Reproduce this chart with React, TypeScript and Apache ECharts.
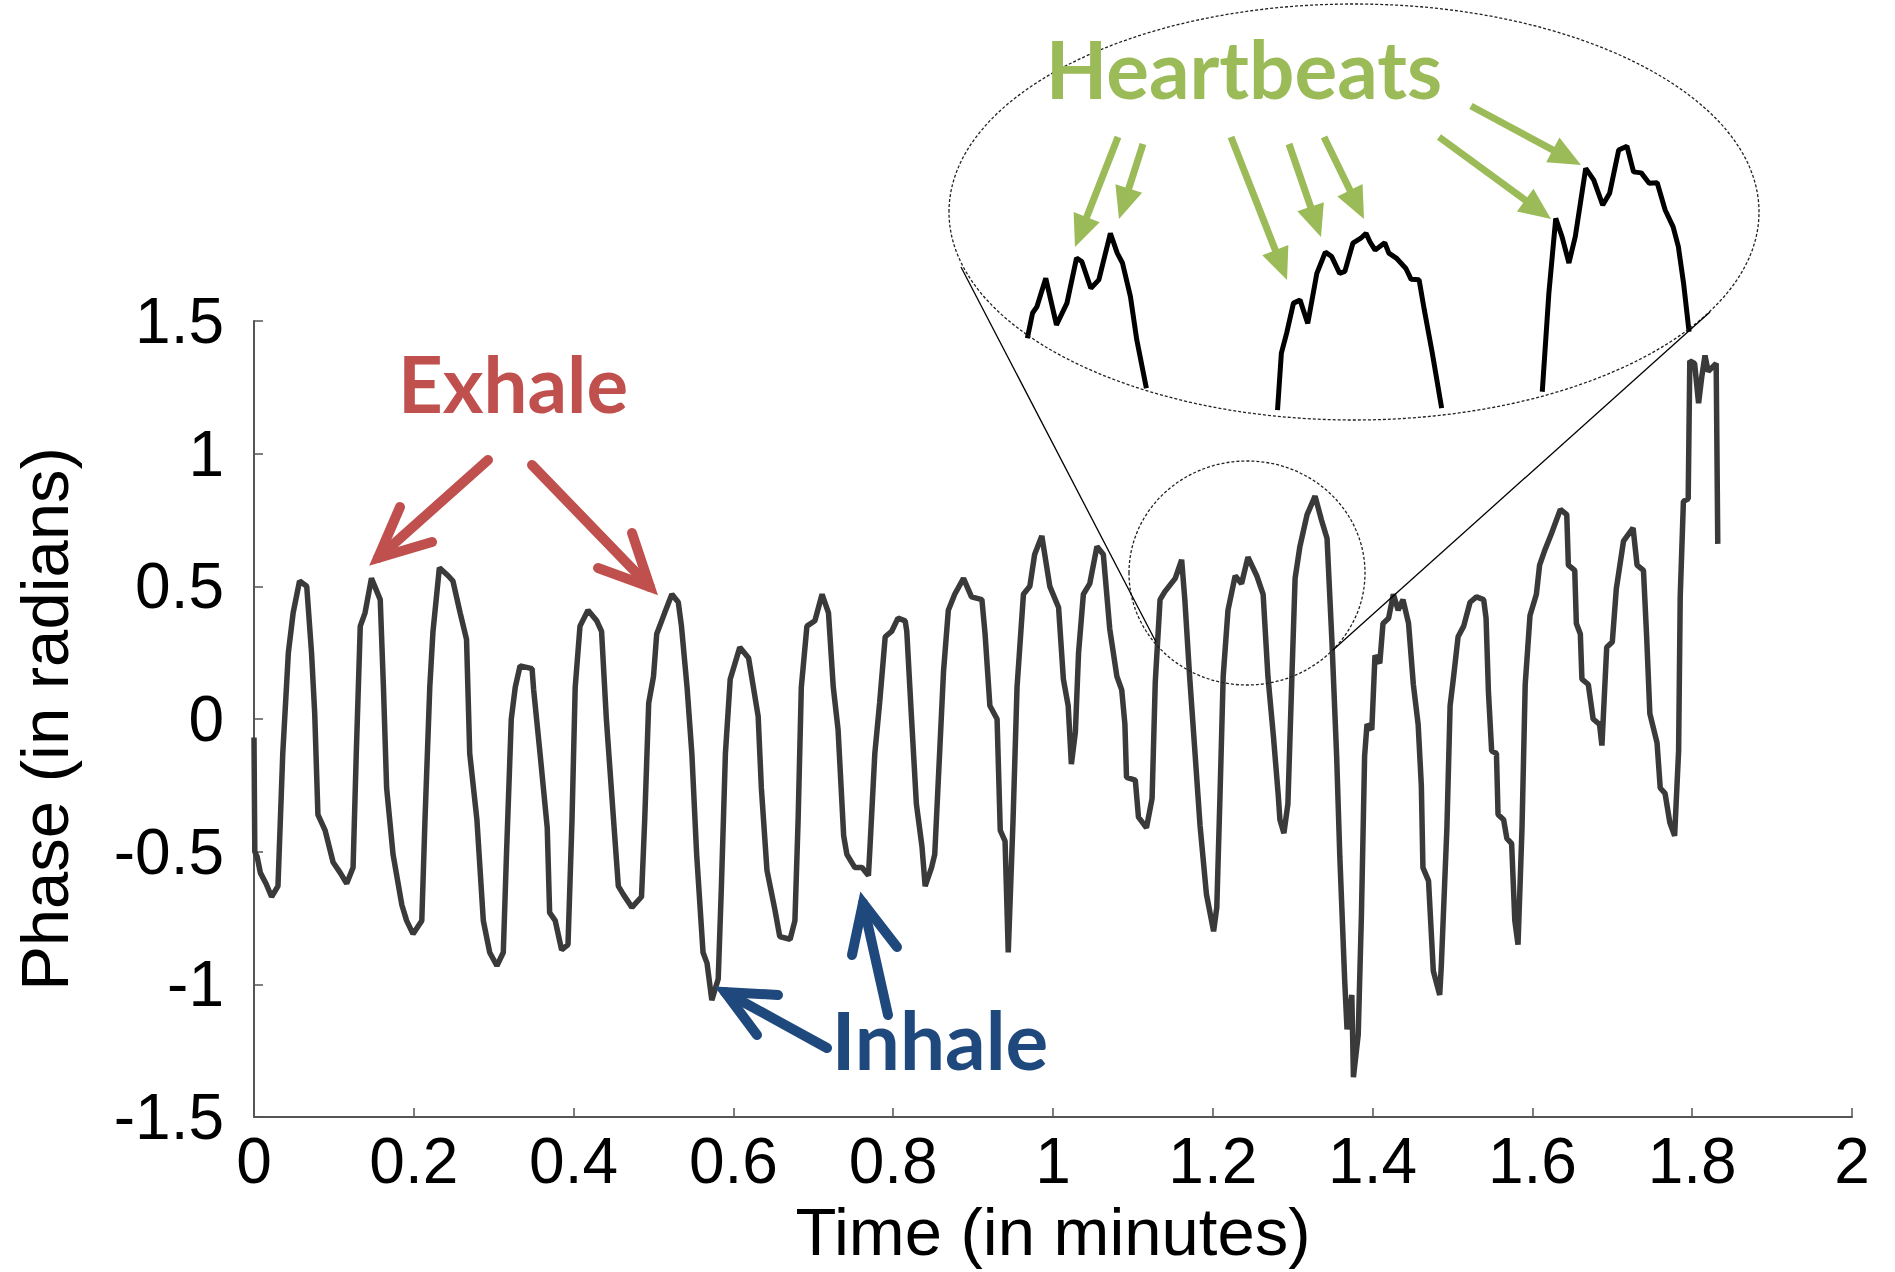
import React, { useEffect, useRef } from "react";
import * as echarts from "echarts";

// Main trace: time (minutes) and phase (radians)
const time = [
  0.000, 0.001, 0.004, 0.008, 0.015, 0.022, 0.030, 0.036, 0.043, 0.049, 0.057, 0.066, 0.072, 0.076, 0.080, 0.089,
  0.099, 0.108, 0.116, 0.124, 0.128, 0.133, 0.139, 0.147, 0.158, 0.162, 0.166, 0.174, 0.185, 0.191, 0.199, 0.210,
  0.214, 0.220, 0.224, 0.232, 0.243, 0.249, 0.258, 0.266, 0.270, 0.279, 0.287, 0.295, 0.304, 0.312, 0.316, 0.322,
  0.327, 0.333, 0.348, 0.350, 0.358, 0.367, 0.370, 0.377, 0.385, 0.393, 0.398, 0.402, 0.408, 0.418, 0.429, 0.435,
  0.441, 0.450, 0.456, 0.462, 0.473, 0.485, 0.489, 0.494, 0.500, 0.504, 0.514, 0.523, 0.531, 0.535, 0.542, 0.548,
  0.554, 0.562, 0.567, 0.573, 0.581, 0.585, 0.590, 0.596, 0.608, 0.619, 0.625, 0.631, 0.635, 0.642, 0.652, 0.658,
  0.671, 0.677, 0.681, 0.685, 0.692, 0.702, 0.711, 0.719, 0.725, 0.731, 0.738, 0.742, 0.752, 0.761, 0.769, 0.771,
  0.777, 0.783, 0.790, 0.798, 0.806, 0.815, 0.817, 0.823, 0.829, 0.836, 0.840, 0.848, 0.852, 0.856, 0.863, 0.869,
  0.877, 0.888, 0.898, 0.911, 0.915, 0.921, 0.930, 0.934, 0.940, 0.944, 0.950, 0.955, 0.963, 0.971, 0.977, 0.986,
  0.996, 1.007, 1.013, 1.019, 1.023, 1.028, 1.032, 1.038, 1.046, 1.055, 1.063, 1.071, 1.080, 1.086, 1.090, 1.092,
  1.103, 1.107, 1.117, 1.124, 1.128, 1.134, 1.140, 1.153, 1.161, 1.165, 1.171, 1.178, 1.184, 1.192, 1.201, 1.205,
  1.209, 1.213, 1.219, 1.228, 1.236, 1.244, 1.255, 1.263, 1.269, 1.276, 1.282, 1.284, 1.289, 1.294, 1.299, 1.303,
  1.309, 1.318, 1.328, 1.336, 1.343, 1.349, 1.355, 1.359, 1.365, 1.368, 1.374, 1.376, 1.382, 1.386, 1.390, 1.393,
  1.399, 1.403, 1.409, 1.413, 1.420, 1.426, 1.432, 1.438, 1.445, 1.451, 1.457, 1.461, 1.463, 1.470, 1.476, 1.484,
  1.486, 1.493, 1.497, 1.501, 1.507, 1.514, 1.522, 1.530, 1.539, 1.542, 1.545, 1.549, 1.555, 1.557, 1.564, 1.568,
  1.574, 1.578, 1.582, 1.587, 1.591, 1.597, 1.605, 1.609, 1.616, 1.624, 1.635, 1.643, 1.645, 1.653, 1.655, 1.660,
  1.662, 1.670, 1.676, 1.684, 1.687, 1.693, 1.700, 1.705, 1.714, 1.726, 1.731, 1.739, 1.743, 1.747, 1.756, 1.760,
  1.766, 1.772, 1.778, 1.783, 1.785, 1.789, 1.795, 1.797, 1.803, 1.808, 1.812, 1.816, 1.820, 1.830, 1.832,
];
const phase = [
  -0.07, -0.50, -0.52, -0.58, -0.62, -0.67, -0.63, -0.13, 0.25, 0.40, 0.52, 0.50, 0.25, 0.02, -0.36, -0.42,
  -0.54, -0.58, -0.62, -0.56, -0.13, 0.35, 0.40, 0.53, 0.45, 0.12, -0.26, -0.51, -0.70, -0.76, -0.81, -0.76,
  -0.38, 0.12, 0.33, 0.57, 0.54, 0.52, 0.40, 0.30, -0.13, -0.38, -0.76, -0.88, -0.93, -0.88, -0.51, 0.00,
  0.12, 0.20, 0.19, 0.11, -0.13, -0.41, -0.73, -0.76, -0.87, -0.85, -0.38, 0.12, 0.35, 0.41, 0.37, 0.33,
  0.00, -0.38, -0.63, -0.66, -0.71, -0.67, -0.38, 0.06, 0.16, 0.32, 0.40, 0.47, 0.44, 0.35, 0.12, -0.13,
  -0.51, -0.88, -0.92, -1.06, -0.98, -0.63, -0.13, 0.15, 0.27, 0.23, 0.12, 0.01, -0.26, -0.57, -0.72, -0.82,
  -0.83, -0.76, -0.38, 0.12, 0.35, 0.37, 0.47, 0.40, 0.12, -0.04, -0.44, -0.51, -0.56, -0.56, -0.59, -0.48,
  -0.13, 0.06, 0.31, 0.33, 0.38, 0.37, 0.33, 0.00, -0.32, -0.48, -0.63, -0.56, -0.51, -0.26, 0.18, 0.41,
  0.47, 0.53, 0.46, 0.45, 0.32, 0.05, 0.00, -0.42, -0.46, -0.88, -0.38, 0.12, 0.47, 0.50, 0.62, 0.69,
  0.50, 0.42, 0.15, 0.05, -0.17, -0.05, 0.25, 0.47, 0.51, 0.65, 0.62, 0.34, 0.16, 0.11, -0.02, -0.22,
  -0.23, -0.37, -0.41, -0.30, 0.14, 0.45, 0.48, 0.53, 0.60, 0.45, 0.16, -0.14, -0.40, -0.66, -0.80, -0.71,
  -0.29, 0.16, 0.41, 0.54, 0.51, 0.61, 0.54, 0.47, 0.16, -0.07, -0.29, -0.38, -0.43, -0.32, 0.16, 0.53,
  0.65, 0.77, 0.84, 0.75, 0.68, 0.30, -0.14, -0.52, -0.98, -1.17, -1.04, -1.35, -1.19, -0.74, -0.14, -0.02,
  -0.04, 0.24, 0.21, 0.36, 0.38, 0.47, 0.41, 0.45, 0.36, 0.13, -0.02, -0.25, -0.56, -0.61, -0.95, -1.04,
  -0.93, -0.41, 0.05, 0.15, 0.31, 0.35, 0.44, 0.46, 0.45, 0.38, 0.10, -0.12, -0.13, -0.36, -0.38, -0.45,
  -0.47, -0.76, -0.85, -0.41, 0.13, 0.39, 0.47, 0.58, 0.64, 0.70, 0.79, 0.77, 0.58, 0.56, 0.36, 0.32,
  0.15, 0.13, 0.00, -0.02, -0.10, 0.27, 0.29, 0.49, 0.67, 0.72, 0.58, 0.56, 0.31, 0.02, -0.09, -0.26,
  -0.28, -0.39, -0.44, -0.12, 0.46, 0.82, 0.83, 1.35, 1.34, 1.19, 1.29, 1.37, 1.31, 1.34, 0.66,
];

// Magnified inset (heartbeat detail), in the same time / phase units
const insetTime1 = [1.1235, 1.1254, 1.1270, 1.1302, 1.1341, 1.1379, 1.1414, 1.1433, 1.1466, 1.1495, 1.1537, 1.1562, 1.1581, 1.1610, 1.1633, 1.1668];
const insetPhase1 = [0.295, 0.346, 0.359, 0.416, 0.322, 0.366, 0.457, 0.450, 0.396, 0.413, 0.507, 0.467, 0.447, 0.379, 0.292, 0.194];
const insetTime2 = [1.2145, 1.2159, 1.2178, 1.2203, 1.2227, 1.2255, 1.2288, 1.2319, 1.2342, 1.2371, 1.2390, 1.2419, 1.2448, 1.2467, 1.2481, 1.2500, 1.2535, 1.2550, 1.2577, 1.2612, 1.2631, 1.2660, 1.2679, 1.2708, 1.2742];
const insetPhase2 = [0.150, 0.265, 0.305, 0.366, 0.372, 0.325, 0.426, 0.469, 0.460, 0.426, 0.430, 0.487, 0.497, 0.507, 0.490, 0.473, 0.488, 0.467, 0.457, 0.436, 0.414, 0.413, 0.352, 0.265, 0.154];
const insetTime3 = [1.3108, 1.3132, 1.3157, 1.3180, 1.3205, 1.3228, 1.3266, 1.3295, 1.3328, 1.3353, 1.3386, 1.3416, 1.3440, 1.3468, 1.3497, 1.3526, 1.3555, 1.3584, 1.3603, 1.3622, 1.3642];
const insetPhase3 = [0.187, 0.386, 0.537, 0.500, 0.447, 0.500, 0.638, 0.615, 0.564, 0.588, 0.675, 0.683, 0.631, 0.629, 0.608, 0.609, 0.554, 0.520, 0.480, 0.406, 0.308];

// Region of the main plot that is magnified
const zoomTimeRange = [1.095, 1.39];
const zoomPhaseRange = [0.13, 0.97];

const xTitle = "Time (in minutes)";
const yTitle = "Phase (in radians)";

const zip = (a: number[], b: number[]) => a.map((v, i) => [v, b[i]]);
const fmt = (v: number) => String(+v.toFixed(1));

const RED = "#C0504D";
const BLUE = "#1F497D";
const GREEN = "#9BBB59";
const FONT = "'Liberation Sans', Arial, Helvetica, sans-serif";
const CALLOUT_FONT = "Lato, 'Open Sans', sans-serif";

function chevronArrow(from: number[], tip: number[], arm1: number[], arm2: number[], color: string) {
  return [
    {
      type: "line",
      z: 100,
      shape: { x1: from[0], y1: from[1], x2: tip[0], y2: tip[1] },
      style: { stroke: color, lineWidth: 10, lineCap: "round" },
    },
    {
      type: "polyline",
      z: 100,
      shape: { points: [arm1, tip, arm2] },
      style: { stroke: color, lineWidth: 10, lineCap: "round", lineJoin: "miter", fill: null },
    },
  ];
}

function triArrow(from: number[], tip: number[], color: string) {
  const dx = tip[0] - from[0];
  const dy = tip[1] - from[1];
  const len = Math.hypot(dx, dy);
  const ux = dx / len;
  const uy = dy / len;
  const L = 32;
  const W = 14;
  const bx = tip[0] - ux * L;
  const by = tip[1] - uy * L;
  return [
    {
      type: "line",
      z: 100,
      shape: { x1: from[0], y1: from[1], x2: bx + ux * 2, y2: by + uy * 2 },
      style: { stroke: color, lineWidth: 7 },
    },
    {
      type: "polygon",
      z: 100,
      shape: { points: [[tip[0], tip[1]], [bx - uy * W, by + ux * W], [bx + uy * W, by - ux * W]] },
      style: { fill: color },
    },
  ];
}

export default function App() {
  const ref = useRef<HTMLDivElement>(null);

  useEffect(() => {
    if (!ref.current) return;
    const chart = echarts.init(ref.current, null, { renderer: "svg" });

    const axisColor = "#555";
    const graphic: any[] = [
      // inset ellipses and connectors
      {
        type: "ellipse",
        z: 90,
        shape: { cx: 1354, cy: 212, rx: 405, ry: 208 },
        style: { fill: null, stroke: "#222", lineWidth: 1.3, lineDash: [3, 2] },
      },
      {
        type: "ellipse",
        z: 90,
        shape: { cx: 1247, cy: 573, rx: 118, ry: 112 },
        style: { fill: null, stroke: "#222", lineWidth: 1.3, lineDash: [3, 2] },
      },
      { type: "line", z: 90, shape: { x1: 961, y1: 267, x2: 1156, y2: 642 }, style: { stroke: "#000", lineWidth: 1.3 } },
      { type: "line", z: 90, shape: { x1: 1710, y1: 312, x2: 1333, y2: 650 }, style: { stroke: "#000", lineWidth: 1.3 } },
      // Callout texts
      {
        type: "text",
        z: 100,
        x: 513,
        y: 383,
        style: { text: "Exhale", fill: RED, font: `bold 78px ${CALLOUT_FONT}`, align: "center", verticalAlign: "middle" },
      },
      {
        type: "text",
        z: 100,
        x: 940,
        y: 1039,
        style: { text: "Inhale", fill: BLUE, font: `bold 80px ${CALLOUT_FONT}`, align: "center", verticalAlign: "middle" },
      },
      {
        type: "text",
        z: 100,
        x: 1244,
        y: 68,
        style: { text: "Heartbeats", fill: GREEN, font: `bold 80px ${CALLOUT_FONT}`, align: "center", verticalAlign: "middle" },
      },
      ...chevronArrow([488, 460], [378, 558], [400, 507], [432, 542], RED),
      ...chevronArrow([532, 465], [650, 587], [632, 533], [598, 568], RED),
      ...chevronArrow([827, 1048], [725, 992], [778, 995], [757, 1035], BLUE),
      ...chevronArrow([888, 1015], [863, 903], [852, 955], [897, 947], BLUE),
      ...triArrow([1118, 137], [1075, 247], GREEN),
      ...triArrow([1143, 144], [1119, 219], GREEN),
      ...triArrow([1231, 137], [1287, 280], GREEN),
      ...triArrow([1289, 144], [1321, 237], GREEN),
      ...triArrow([1324, 137], [1364, 219], GREEN),
      ...triArrow([1439, 137], [1551, 219], GREEN),
      ...triArrow([1471, 106], [1581, 165], GREEN),
    ];

    const insetLine = { color: "#000", width: 5 };

    chart.setOption({
      animation: false,
      backgroundColor: "#fff",
      grid: [
        { left: 254, top: 321, width: 1598, height: 796 },
        { left: 949, top: 4, width: 811, height: 416 },
      ],
      xAxis: [
        {
          type: "value",
          gridIndex: 0,
          min: 0,
          max: 2,
          interval: 0.2,
          name: xTitle,
          nameLocation: "middle",
          nameGap: 80,
          nameTextStyle: { fontSize: 67, fontFamily: FONT, color: "#000" },
          axisLine: { show: true, onZero: false, lineStyle: { color: axisColor, width: 2 } },
          axisTick: { show: true, inside: true, length: 9, lineStyle: { color: axisColor, width: 1.5 } },
          splitLine: { show: false },
          axisLabel: { fontSize: 64, fontFamily: FONT, color: "#000", margin: 12, formatter: fmt },
        },
        {
          type: "value",
          gridIndex: 1,
          min: zoomTimeRange[0],
          max: zoomTimeRange[1],
          show: false,
        },
      ],
      yAxis: [
        {
          type: "value",
          gridIndex: 0,
          min: -1.5,
          max: 1.5,
          interval: 0.5,
          name: yTitle,
          nameLocation: "middle",
          nameGap: 176,
          nameTextStyle: { fontSize: 67, fontFamily: FONT, color: "#000" },
          axisLine: { show: true, onZero: false, lineStyle: { color: axisColor, width: 2 } },
          axisTick: { show: true, inside: true, length: 9, lineStyle: { color: axisColor, width: 1.5 } },
          splitLine: { show: false },
          axisLabel: { fontSize: 64, fontFamily: FONT, color: "#000", margin: 30, formatter: fmt },
        },
        {
          type: "value",
          gridIndex: 1,
          min: zoomPhaseRange[0],
          max: zoomPhaseRange[1],
          show: false,
        },
      ],
      series: [
        {
          type: "line",
          xAxisIndex: 0,
          yAxisIndex: 0,
          data: zip(time, phase),
          showSymbol: false,
          lineStyle: { color: "#3a3a3a", width: 5.5 },
          z: 5,
        },
        { type: "line", xAxisIndex: 1, yAxisIndex: 1, data: zip(insetTime1, insetPhase1), showSymbol: false, lineStyle: insetLine },
        { type: "line", xAxisIndex: 1, yAxisIndex: 1, data: zip(insetTime2, insetPhase2), showSymbol: false, lineStyle: insetLine },
        { type: "line", xAxisIndex: 1, yAxisIndex: 1, data: zip(insetTime3, insetPhase3), showSymbol: false, lineStyle: insetLine },
      ],
      graphic,
    });

    return () => chart.dispose();
  }, []);

  return (
    <div
      ref={ref}
      style={{ position: "fixed", left: 0, top: 0, width: 1895, height: 1272, background: "#fff" }}
    />
  );
}
